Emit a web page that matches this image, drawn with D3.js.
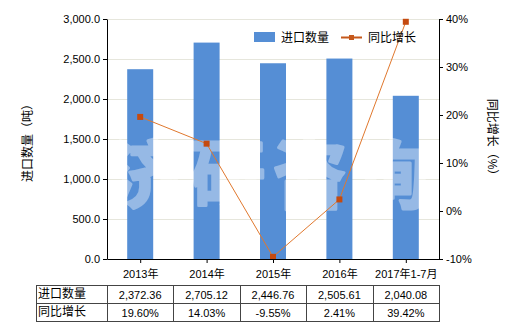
<!DOCTYPE html>
<html>
<head>
<meta charset="utf-8">
<script src="https://cdn.jsdelivr.net/npm/d3@7"></script>
<style>
  body { margin: 0; background: #fff; }
  text { font-family: "Liberation Sans", "Noto Sans CJK SC", sans-serif; }
</style>
</head>
<body>
<div id="chart"></div>
<script>
const categories = ['2013年', '2014年', '2015年', '2016年', '2017年1-7月'];
const importQty = [2372.36, 2705.12, 2446.76, 2505.61, 2040.08];
const yoyGrowth = [19.60, 14.03, -9.55, 2.41, 39.42];
const leftTicks = [0, 500, 1000, 1500, 2000, 2500, 3000];
const rightTicks = [-10, 0, 10, 20, 30, 40];
const qtyLabels = ['2,372.36', '2,705.12', '2,446.76', '2,505.61', '2,040.08'];
const growthLabels = ['19.60%', '14.03%', '-9.55%', '2.41%', '39.42%'];

const width = 520, height = 330;
const plotL = 107, plotR = 439, plotT = 19, plotB = 259;

const svg = d3.select('#chart').append('svg')
  .attr('width', width)
  .attr('height', height);

const x = d3.scalePoint().domain(categories).range([plotL, plotR]).padding(0.5);
const step = x.step();
const barW = 26;
const yL = d3.scaleLinear().domain([0, 3000]).range([plotB, plotT]);
const yR = d3.scaleLinear().domain([-10, 40]).range([plotB, plotT]);

// grid
svg.append('g').selectAll('line')
  .data(leftTicks.filter(d => d > 0))
  .join('line')
  .attr('x1', plotL).attr('x2', plotR)
  .attr('y1', d => yL(d) + 0.5).attr('y2', d => yL(d) + 0.5)
  .attr('stroke', '#e6e6dc').attr('stroke-width', 1);

// bars
svg.append('g').selectAll('rect')
  .data(importQty)
  .join('rect')
  .attr('x', (d, i) => x(categories[i]) - barW / 2)
  .attr('y', d => yL(d))
  .attr('width', barW)
  .attr('height', d => yL(0) - yL(d))
  .attr('fill', '#558ed5');

// watermark
svg.append('g')
  .attr('opacity', 0.38)
  .append('text')
  .attr('x', 109).attr('y', 202)
  .attr('font-size', 74)
  .attr('font-weight', 'bold')
  .attr('letter-spacing', 8)
  .style('font-family', '"Noto Sans CJK SC", sans-serif')
  .attr('fill', '#ffffff')
  .attr('stroke', '#ffffff')
  .attr('stroke-width', 3)
  .attr('stroke-linejoin', 'round')
  .text('济研咨询');

// line
const line = d3.line()
  .x((d, i) => x(categories[i]))
  .y(d => yR(d));
svg.append('path')
  .datum(yoyGrowth)
  .attr('d', line)
  .attr('fill', 'none')
  .attr('stroke', '#e0782e')
  .attr('stroke-width', 1);
svg.append('g').selectAll('rect')
  .data(yoyGrowth)
  .join('rect')
  .attr('x', (d, i) => x(categories[i]) - 3)
  .attr('y', d => yR(d) - 3)
  .attr('width', 6).attr('height', 6)
  .attr('fill', '#c54a0f');

// axes
const axL = svg.append('g')
  .attr('transform', `translate(${plotL},0)`)
  .call(d3.axisLeft(yL).tickValues(leftTicks).tickFormat(d3.format(',.1f')).tickSize(4).tickSizeOuter(0));
const axR = svg.append('g')
  .attr('transform', `translate(${plotR},0)`)
  .call(d3.axisRight(yR).tickValues(rightTicks).tickFormat(d => d + '%').tickSize(4).tickSizeOuter(0));
const axB = svg.append('g')
  .attr('transform', `translate(0,${plotB})`)
  .call(d3.axisBottom(x).tickSize(4).tickSizeOuter(0));
[axL, axR, axB].forEach(g => {
  g.select('.domain').attr('stroke', '#000');
  g.selectAll('.tick line').attr('stroke', '#000');
  g.selectAll('.tick text').attr('fill', '#000').attr('font-size', 11)
    .style('font-family', '"Liberation Sans", "Noto Sans CJK SC", sans-serif');
});
axB.selectAll('.tick text').attr('dy', '1.05em');

// axis titles
svg.append('text')
  .attr('transform', 'translate(32,140) rotate(-90)')
  .attr('text-anchor', 'middle')
  .attr('font-size', 12)
  .text('进口数量（吨）');
svg.append('text')
  .attr('transform', 'translate(488,140) rotate(90)')
  .attr('text-anchor', 'middle')
  .attr('font-size', 12)
  .text('同比增长（%）');

// legend
const lg = svg.append('g');
lg.append('rect').attr('x', 254).attr('y', 32).attr('width', 21).attr('height', 10).attr('fill', '#558ed5');
lg.append('text').attr('x', 281).attr('y', 42).attr('font-size', 12).text('进口数量');
lg.append('line').attr('x1', 341).attr('x2', 362).attr('y1', 37.5).attr('y2', 37.5)
  .attr('stroke', '#c5581b').attr('stroke-width', 2);
lg.append('rect').attr('x', 349).attr('y', 35).attr('width', 5).attr('height', 5).attr('fill', '#c5581b');
lg.append('text').attr('x', 368).attr('y', 42).attr('font-size', 12).text('同比增长');

// table
const tTop = 285, rowH = 18, tLeft = 36;
const rows = [['进口数量', qtyLabels], ['同比增长', growthLabels]];
const tbl = svg.append('g');
const xEdges = [tLeft, plotL].concat(categories.map(c => x(c) + step / 2));
tbl.selectAll('line.v')
  .data(xEdges)
  .join('line')
  .attr('x1', d => Math.round(d) + 0.5).attr('x2', d => Math.round(d) + 0.5)
  .attr('y1', tTop).attr('y2', tTop + rowH * 2)
  .attr('stroke', '#444');
tbl.selectAll('line.h')
  .data([0, 1, 2])
  .join('line')
  .attr('x1', tLeft).attr('x2', Math.round(xEdges[xEdges.length - 1]) + 1)
  .attr('y1', d => tTop + d * rowH + 0.5).attr('y2', d => tTop + d * rowH + 0.5)
  .attr('stroke', '#444');
rows.forEach((r, ri) => {
  tbl.append('text')
    .attr('x', tLeft + 2).attr('y', tTop + ri * rowH + 13)
    .attr('font-size', 12).text(r[0]);
  tbl.append('g').selectAll('text')
    .data(r[1])
    .join('text')
    .attr('x', (d, i) => x(categories[i]))
    .attr('y', tTop + ri * rowH + 14)
    .attr('text-anchor', 'middle')
    .attr('font-size', 11)
    .text(d => d);
});
</script>
</body>
</html>
